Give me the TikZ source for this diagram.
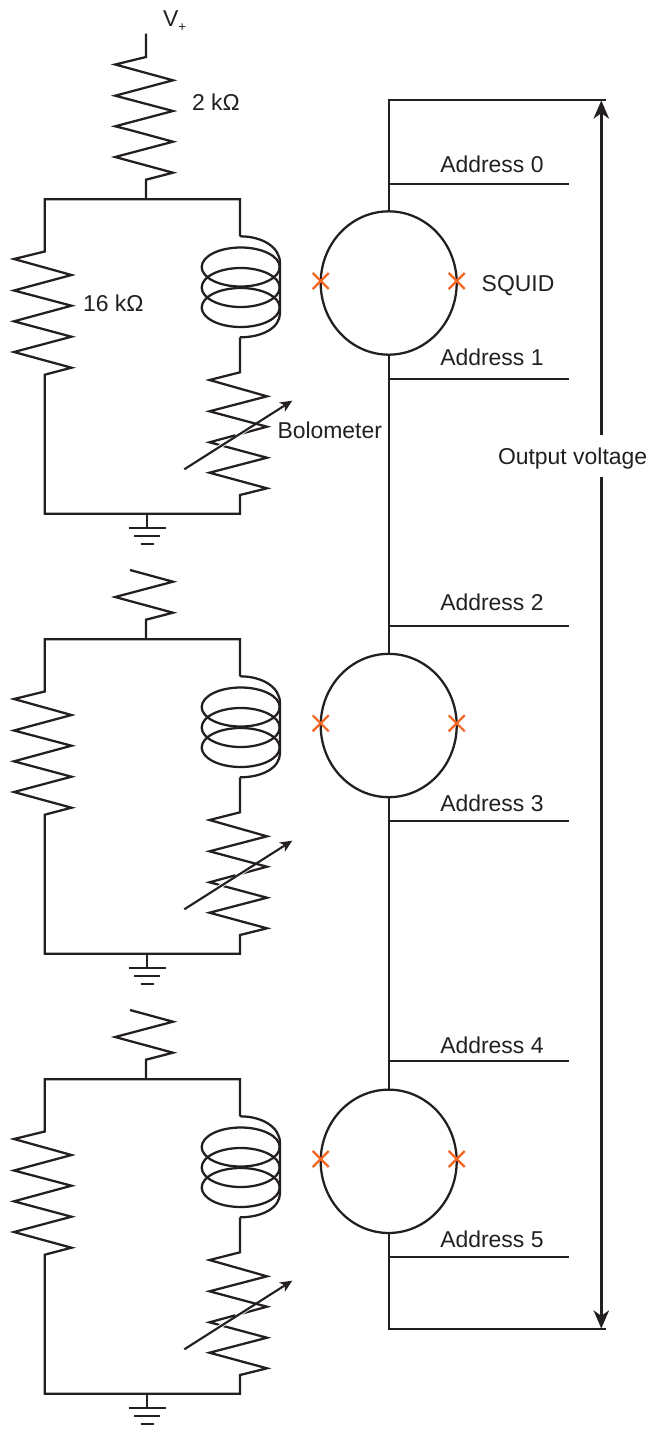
\documentclass[tikz,border=0pt]{standalone}
\usepackage{fontspec}
\setmainfont{Liberation Sans}
\usetikzlibrary{arrows.meta,shapes.geometric,shapes.misc}
\definecolor{ink}{HTML}{231F20}
\definecolor{jj}{HTML}{F26522}
\tikzset{
  wire/.style={draw=ink,line width=1.7pt,line join=miter},
  lab/.style={anchor=base west,inner sep=0pt,outer sep=0pt,text=ink,font=\fontsize{17.2}{20}\selectfont},
  squidring/.style={ellipse,draw=ink,line width=1.7pt,minimum width=102pt,minimum height=107.5pt,inner sep=0pt,outer sep=0pt},
  junction/.style={cross out,draw=jj,line width=1.7pt,minimum size=12pt,inner sep=0pt,outer sep=0pt},
  tune/.style={draw=ink,line width=1.6pt,-{Stealth[length=9pt,width=8pt,inset=2.5pt]},shorten >=-0.5pt},
  halo/.style={draw=white,line width=3pt},
  output/.style={draw=ink,line width=2.6pt,-{Stealth[length=13.5pt,width=11.5pt,inset=4pt]}}
}
\begin{document}
\begin{tikzpicture}[x=0.75pt,y=-0.75pt]
\useasboundingbox (0,0) rectangle (653,1429);

% Three identical bias / bolometer circuits
\foreach \i/\d in {1/0,2/440,3/880}{
\begin{scope}[shift={(0,\d)}]
  \coordinate (rtop\i) at (130,130);
  \coordinate (tl\i) at (44.7,199.3);
  \coordinate (tm\i) at (146,199.3);
  \coordinate (tr\i) at (240,199.3);
  \coordinate (bl\i) at (44.7,513.7);
  \coordinate (bm\i) at (147,513.7);
  \coordinate (br\i) at (240,513.7);
  \coordinate (gnd\i) at (147,528.3);
  \coordinate (cin\i) at (240,236.3);
  \coordinate (cout\i) at (240,337.3);
  % series resistor
  \draw[wire] (rtop\i) -- (173,141.7) -- (115.2,157) -- (173,172.7) -- (146,179.7) -- (tm\i);
  % loop with shunt resistor
  \draw[wire] (cin\i) -- (tr\i) -- (tl\i) -- (44.7,251.5) -- (14,259) -- (71.5,275) -- (14,290.5) -- (71.5,305.7)
     -- (14,321.3) -- (71.5,336.7) -- (14,352) -- (71.5,367.7) -- (44.7,374.7) -- (bl\i) -- (br\i)
     -- (240,495) -- (267,488.3) -- (209.5,472.7) -- (267,457.7) -- (209.5,442.3) -- (267,426.7)
     -- (209.5,411.3) -- (267,396.3) -- (209.5,380) -- (240,372.3) -- (cout\i);
  % coil
  \draw[wire] (cin\i) .. controls (262,236.3) and (280,247) .. (280,263) -- (280,313)
     .. controls (280,328) and (262,337.3) .. (cout\i);
  \draw[wire] (240.7,267) ellipse [x radius=39,y radius=19.5];
  \draw[wire] (240.7,287.5) ellipse [x radius=39,y radius=19.5];
  \draw[wire] (240.7,307.5) ellipse [x radius=39,y radius=19.5];
  % tunable arrow
  \coordinate (tunea\i) at (184.3,469.3);
  \coordinate (tuneb\i) at (291.7,401);
  \draw[halo] (236,436.3) -- (252,426.1);
  \draw[halo] (212,451.6) -- (228,441.4);
  \draw[tune] (tunea\i) -- (tuneb\i);
  % ground
  \draw[wire] (bm\i) -- (gnd\i);
  \draw[wire] (128.7,528.3) -- (165.7,528.3);
  \draw[wire] (134,536.3) -- (160,536.3);
  \draw[wire] (140.7,544.3) -- (154,544.3);
\end{scope}
}

% Upper part of the first series resistor
\coordinate (vplus) at (146,33.5);
\draw[wire] (vplus) -- (146,57) -- (115.2,64.5) -- (173,80.3) -- (115.2,95.7) -- (173,111) -- (115.2,126.3) -- (rtop1);

% SQUIDs
\node[squidring] (s1) at (388.7,283) {};
\node[squidring] (s2) at (388.7,725.5) {};
\node[squidring] (s3) at (388.7,1161.3) {};
\node[junction] (j1l) at (320.7,281) {};
\node[junction] (j1r) at (456.7,281) {};
\node[junction] (j2l) at (320.7,723.3) {};
\node[junction] (j2r) at (456.7,723.3) {};
\node[junction] (j3l) at (320.7,1159) {};
\node[junction] (j3r) at (456.7,1159) {};

% Readout bus
\coordinate (ct) at (388.7,100);
\coordinate (cte) at (606,100);
\coordinate (cb) at (388.7,1329);
\coordinate (cbe) at (606,1329);
\draw[wire] (cte) -- (ct) -- (s1.north);
\draw[wire] (s1.south) -- (s2.north);
\draw[wire] (s2.south) -- (s3.north);
\draw[wire] (s3.south) -- (cb) -- (cbe);

% Address lines
\foreach \n/\y/\b in {0/183.7/172.3,1/379.3/365.6,2/626/610.6,3/821/811.3,4/1061/1053.3,5/1257/1247.3}{
  \coordinate (as\n) at (388.7,\y);
  \coordinate (ae\n) at (569,\y);
  \draw[wire] (as\n) -- (ae\n);
  \node[lab] (al\n) at (440.3,\b) {Address \n};
}

% Labels
\node[lab] (vl) at (163,26.5) {V{\fontsize{10}{10}\selectfont\raisebox{-3.5pt}{+}}};
\node[lab] (r2) at (192,110.6) {2 kΩ};
\node[lab] (r16) at (83,311.6) {16 kΩ};
\node[lab] (bolo) at (277.5,438.6) {Bolometer};
\node[lab] (sq) at (481.7,291) {SQUID};
\node[lab] (ov) at (498,464.5) {Output voltage};

% Output voltage arrow
\coordinate (ovt) at (601.3,435);
\coordinate (ovb) at (601.3,477.3);
\coordinate (ovtip) at (601.3,100.5);
\coordinate (ovbot) at (601.3,1328.5);
\draw[output] (ovt) -- (ovtip);
\draw[output] (ovb) -- (ovbot);
\end{tikzpicture}
\end{document}
